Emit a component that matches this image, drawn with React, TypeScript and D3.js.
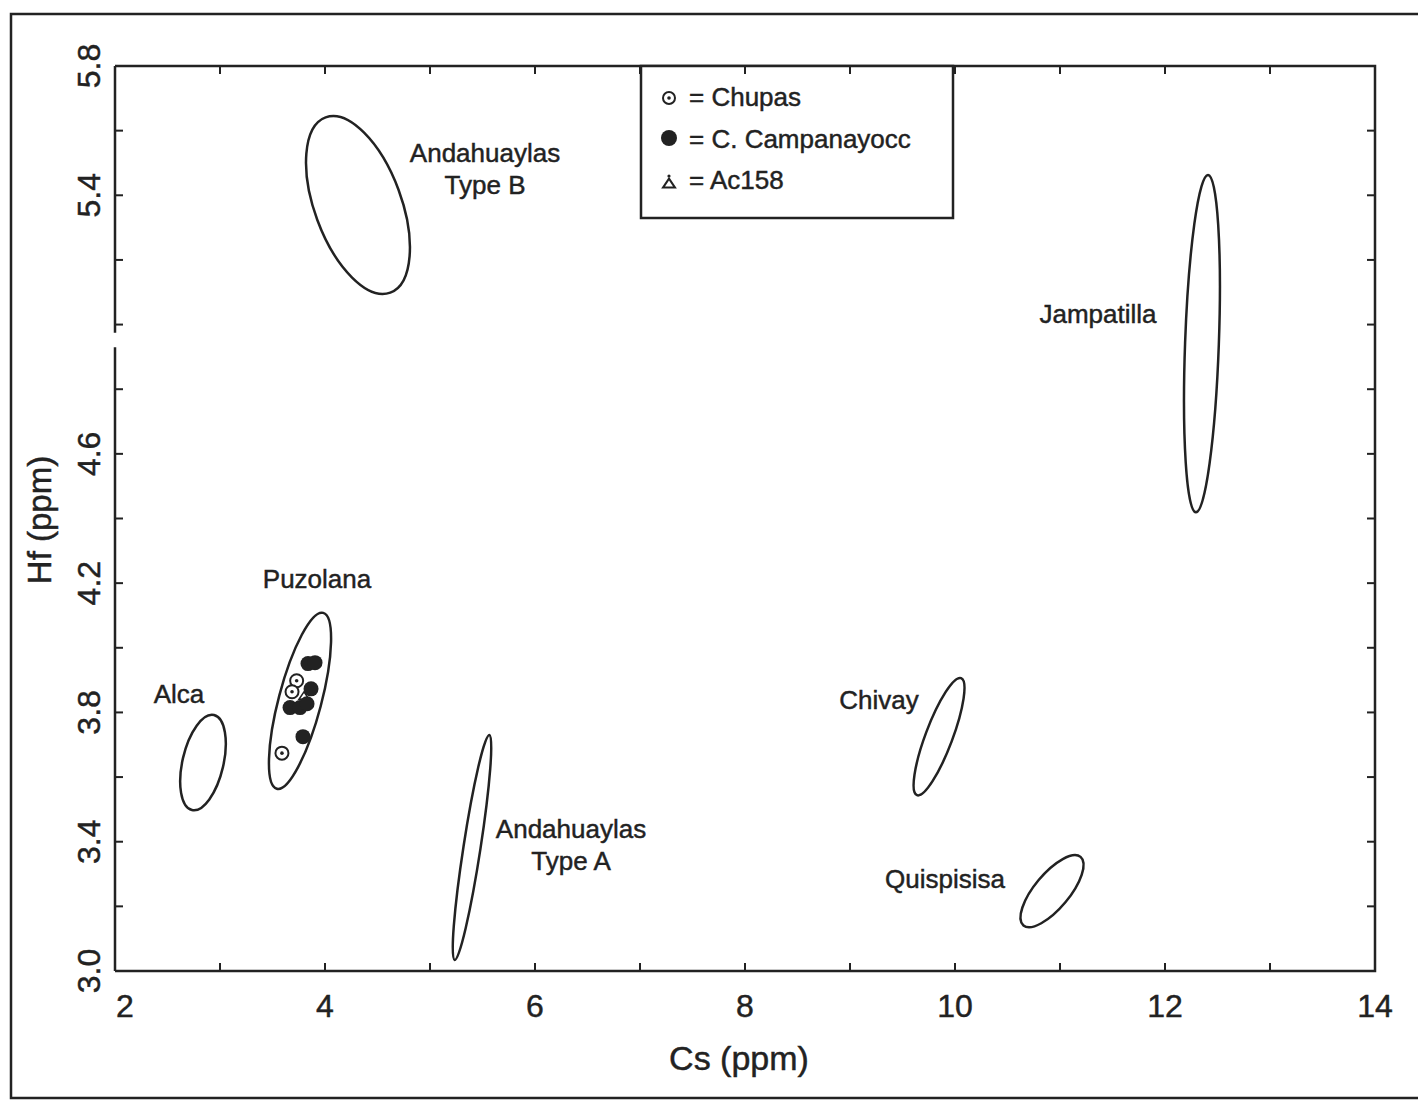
import React from "react";
import * as d3 from "d3";

// ---- data ----
const xDomain = [2, 14];
const yDomain = [3.0, 5.8];
const xTickValues = [2, 4, 6, 8, 10, 12, 14];
const xMinorTicks = [3, 4, 5, 6, 7, 8, 9, 10, 11, 12, 13];
const yTickLabels = [3.0, 3.4, 3.8, 4.2, 4.6, 5.4, 5.8];
const yMinorTicks = [3.2, 3.4, 3.6, 3.8, 4.0, 4.2, 4.4, 4.6, 4.8, 5.0, 5.2, 5.4, 5.6];
const yAxisBreak = [4.93, 4.975];

// source ellipses: centre (Cs, Hf), major-axis tip (Cs, Hf), minor/major ratio
const ellipseNames = ["Andahuaylas Type B", "Jampatilla", "Puzolana", "Alca", "Andahuaylas Type A", "Chivay", "Quispisisa"];
const ellipseCenters = [[4.314, 5.37], [12.352, 4.941], [3.762, 3.836], [2.838, 3.645], [5.4, 3.382], [9.848, 3.725], [10.924, 3.247]];
const ellipseTips = [[4.006, 5.641], [12.41, 5.463], [3.983, 4.108], [2.943, 3.792], [5.565, 3.73], [10.058, 3.906], [11.196, 3.353]];
const ellipseRatios = [0.464, 0.1, 0.235, 0.42, 0.075, 0.216, 0.39];

// labels: lines, position in data units
const labelLines = [["Andahuaylas", "Type B"], ["Jampatilla"], ["Puzolana"], ["Alca"], ["Andahuaylas", "Type A"], ["Chivay"], ["Quispisisa"]];
const labelPositions = [[5.524, 5.531], [11.362, 5.034], [3.924, 4.213], [2.61, 3.858], [6.343, 3.438], [9.276, 3.84], [9.905, 3.284]];

// samples
const chupas = [[3.73, 3.898], [3.686, 3.864], [3.59, 3.674]];
const campanayocc = [[3.838, 3.951], [3.905, 3.954], [3.867, 3.873], [3.667, 3.815], [3.762, 3.815], [3.829, 3.827], [3.79, 3.725]];
const ac158 = [[3.8, 3.85]];

const legendLabels = ["= Chupas", "= C. Campanayocc", "= Ac158"];

const INK = "#222";
const FONT = "'Liberation Sans', Arial, Helvetica, sans-serif";
const TXT = { fill: INK, stroke: INK, strokeWidth: 0.45 };

export default function App() {
  const left = 115, right = 1375, top = 66, bottom = 971;
  const x = d3.scaleLinear().domain(xDomain).range([left, right]);
  const y = d3.scaleLinear().domain(yDomain).range([bottom, top]);
  const tl = 8;

  const tri = (cx: number, cy: number, s: number) =>
    `M${cx - s},${cy + s * 0.6} L${cx + s},${cy + s * 0.6} L${cx},${cy - s * 0.9} Z`;

  return (
    <svg width={1418} height={1102} style={{ position: "absolute", left: 0, top: 0, background: "#fff" }} fontFamily={FONT}>
      <rect x={0} y={0} width={1418} height={1102} fill="#fff" />
      {/* outer page frame */}
      <path d={`M1420,14 L11,14 L11,1098 L1420,1098`} fill="none" stroke={INK} strokeWidth={2.5} />

      {/* plot frame: top, right, bottom */}
      <path d={`M${left},${top} L${right},${top} L${right},${bottom} L${left},${bottom}`} fill="none" stroke={INK} strokeWidth={2.5} />
      {/* left axis with break */}
      <line x1={left} x2={left} y1={bottom} y2={y(yAxisBreak[0])} stroke={INK} strokeWidth={2.5} />
      <line x1={left} x2={left} y1={y(yAxisBreak[1])} y2={top} stroke={INK} strokeWidth={2.5} />

      {/* ticks */}
      {xMinorTicks.map((t) => (
        <g key={"xt" + t}>
          <line x1={x(t)} x2={x(t)} y1={bottom} y2={bottom - tl} stroke={INK} strokeWidth={2} />
          <line x1={x(t)} x2={x(t)} y1={top} y2={top + tl} stroke={INK} strokeWidth={2} />
        </g>
      ))}
      {yMinorTicks.map((t) => (
        <g key={"yt" + t}>
          <line x1={left} x2={left + tl} y1={y(t)} y2={y(t)} stroke={INK} strokeWidth={2} />
          <line x1={right} x2={right - tl} y1={y(t)} y2={y(t)} stroke={INK} strokeWidth={2} />
        </g>
      ))}

      {/* tick labels */}
      {xTickValues.map((t, i) => (
        <text key={"xl" + t} x={x(t) + (i === 0 ? 10 : 0)} y={bottom + 46} textAnchor="middle" fontSize={32} {...TXT}>
          {t}
        </text>
      ))}
      {yTickLabels.map((t) => (
        <text key={"yl" + t} transform={`translate(${left - 15},${y(t)}) rotate(-90)`} textAnchor="middle" fontSize={32} {...TXT}>
          {d3.format(".1f")(t)}
        </text>
      ))}

      {/* axis titles */}
      <text x={739} y={1070} textAnchor="middle" fontSize={34} {...TXT}>Cs (ppm)</text>
      <text transform={`translate(51,520) rotate(-90)`} textAnchor="middle" fontSize={33} {...TXT}>Hf (ppm)</text>

      {/* ellipses */}
      {ellipseNames.map((n, i) => {
        const cx = x(ellipseCenters[i][0]);
        const cy = y(ellipseCenters[i][1]);
        const tx = x(ellipseTips[i][0]);
        const ty = y(ellipseTips[i][1]);
        const a = Math.hypot(tx - cx, ty - cy);
        const ang = (Math.atan2(ty - cy, tx - cx) * 180) / Math.PI;
        return (
          <ellipse key={n} cx={cx} cy={cy} rx={a} ry={a * ellipseRatios[i]} transform={`rotate(${ang},${cx},${cy})`}
            fill="none" stroke={INK} strokeWidth={2.5} />
        );
      })}

      {/* labels */}
      {labelLines.map((lines, i) => (
        <text key={"lab" + i} x={x(labelPositions[i][0])} y={y(labelPositions[i][1]) + 9} textAnchor="middle" fontSize={26} {...TXT}>
          {lines.map((l, j) => (
            <tspan key={j} x={x(labelPositions[i][0])} dy={j === 0 ? 0 : 32}>{l}</tspan>
          ))}
        </text>
      ))}

      {/* samples */}
      {ac158.map((p, i) => (
        <g key={"ac" + i}>
          <path d={tri(x(p[0]), y(p[1]), 5)} fill="none" stroke={INK} strokeWidth={1.5} />
        </g>
      ))}
      {campanayocc.map((p, i) => (
        <circle key={"cc" + i} cx={x(p[0])} cy={y(p[1])} r={7.5} fill={INK} />
      ))}
      {chupas.map((p, i) => (
        <g key={"ch" + i}>
          <circle cx={x(p[0])} cy={y(p[1])} r={6.5} fill="#fff" stroke={INK} strokeWidth={2} />
          <circle cx={x(p[0])} cy={y(p[1])} r={1.8} fill={INK} />
        </g>
      ))}

      {/* legend */}
      <rect x={641} y={top} width={312} height={152} fill="#fff" stroke={INK} strokeWidth={2.5} />
      {[8, 9].map((t) => (
        <line key={"lt" + t} x1={x(t)} x2={x(t)} y1={top} y2={top + tl} stroke={INK} strokeWidth={2} />
      ))}
      <g>
        <circle cx={669} cy={98} r={6} fill="#fff" stroke={INK} strokeWidth={2} />
        <circle cx={669} cy={98} r={1.8} fill={INK} />
        <circle cx={669} cy={138} r={8} fill={INK} />
        <path d={tri(669, 184, 6)} fill="none" stroke={INK} strokeWidth={2} />
        <circle cx={669} cy={176} r={1.6} fill={INK} />
        {legendLabels.map((l, i) => (
          <text key={l} x={689} y={106 + i * 41.5} fontSize={26} {...TXT}>{l}</text>
        ))}
      </g>
    </svg>
  );
}
